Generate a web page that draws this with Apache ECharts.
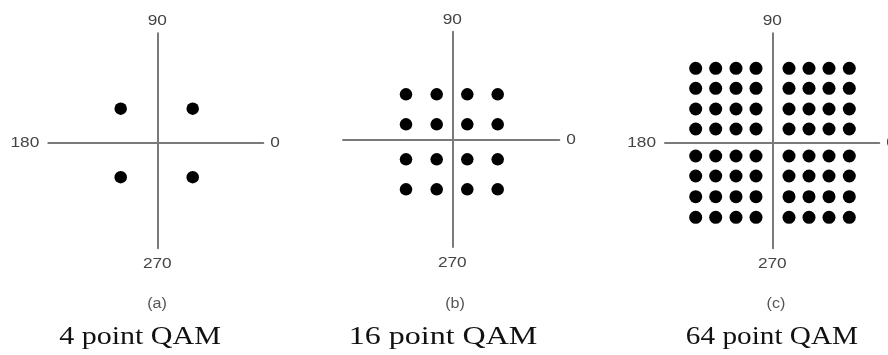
<!DOCTYPE html>
<html>
<head>
<meta charset="utf-8">
<script src="https://cdn.jsdelivr.net/npm/echarts@6.0.0/dist/echarts.min.js"></script>
<style>
  html, body { margin: 0; padding: 0; background: #ffffff; }
  #chart { width: 888px; height: 355px; }
</style>
</head>
<body>
<div id="chart"></div>
<script>
// In-phase (I) and quadrature (Q) levels of each constellation
const qam4I = [-3.66, 3.54];
const qam4Q = [3.4, -3.45];
const qam16I = [-4.63, -1.56, 1.5, 4.54];
const qam16Q = [4.57, 1.57, -1.93, -4.93];
const qam64I = [-7.66, -5.66, -3.63, -1.63, 1.67, 3.67, 5.67, 7.7];
const qam64Q = [7.44, 5.44, 3.37, 1.37, -1.33, -3.33, -5.4, -7.46];

// Phase angle written at each end of the axes
const labelTop = '90';
const labelBottom = '270';
const labelLeft = '180';
const labelRight = '0';

const captions = ['(a)', '(b)', '(c)'];
const titles = ['4 point QAM', '16 point QAM', '64 point QAM'];

// Layout of the three diagrams
const panels = [
  { I: qam4I, Q: qam4Q, grid: { left: 48.3, top: 33.3, width: 215, height: 215 },
    xr: [-10.9, 10.6], yr: [-10.56, 10.94], dot: 12.5, leftLabel: true,
    captionX: 157, titleX: 140, titleScale: 1.2 },
  { I: qam16I, Q: qam16Q, grid: { left: 343, top: 31.7, width: 216.3, height: 215.3 },
    xr: [-10.93, 10.7], yr: [-10.7, 10.83], dot: 12.5, leftLabel: false,
    captionX: 455, titleX: 443, titleScale: 1.28 },
  { I: qam64I, Q: qam64Q, grid: { left: 665, top: 33.3, width: 214.3, height: 215 },
    xr: [-10.73, 10.7], yr: [-10.56, 10.94], dot: 13, leftLabel: true,
    captionX: 776, titleX: 772, titleScale: 1.17 }
];

const axisColor = '#7a7a7a';

function constellation(I, Q) {
  const pts = [];
  Q.forEach(q => I.forEach(i => pts.push([i, q])));
  return pts;
}

const chart = echarts.init(document.getElementById('chart'), null, { renderer: 'canvas' });

const hiddenAxisParts = {
  axisTick: { show: false },
  axisLabel: { show: false },
  splitLine: { show: false }
};

chart.setOption({
  animation: false,
  backgroundColor: '#ffffff',
  grid: panels.map(p => Object.assign({ containLabel: false }, p.grid)),
  xAxis: panels.map((p, k) => Object.assign({
    gridIndex: k, type: 'value', min: p.xr[0], max: p.xr[1],
    axisLine: { show: true, onZero: true, lineStyle: { color: axisColor, width: 2 } }
  }, hiddenAxisParts)),
  yAxis: panels.map((p, k) => Object.assign({
    gridIndex: k, type: 'value', min: p.yr[0], max: p.yr[1],
    axisLine: { show: true, onZero: true, lineStyle: { color: axisColor, width: 2 } }
  }, hiddenAxisParts)),
  series: panels.map((p, k) => ({
    type: 'scatter',
    xAxisIndex: k,
    yAxisIndex: k,
    data: constellation(p.I, p.Q),
    symbol: 'circle',
    symbolSize: p.dot,
    itemStyle: { color: '#000000', opacity: 1 },
    silent: true
  }))
});

// Text placed from the axis geometry
const sansFont = '15px "Liberation Sans", Arial, sans-serif';
const captionFont = '14px "Liberation Sans", Arial, sans-serif';
const serifFont = '25px "Liberation Serif", "Times New Roman", serif';

function textEl(text, x, y, font, fill, align, scaleX) {
  return {
    type: 'text', x: x, y: y, scaleX: scaleX, scaleY: 1, silent: true,
    style: { text: text, x: 0, y: 0, font: font, fill: fill, align: align, verticalAlign: 'middle' }
  };
}

const graphics = [];
panels.forEach((p, k) => {
  const c = chart.convertToPixel({ gridIndex: k }, [0, 0]);
  const topEnd = chart.convertToPixel({ gridIndex: k }, [0, p.yr[1]]);
  const bottomEnd = chart.convertToPixel({ gridIndex: k }, [0, p.yr[0]]);
  const leftEnd = chart.convertToPixel({ gridIndex: k }, [p.xr[0], 0]);
  const rightEnd = chart.convertToPixel({ gridIndex: k }, [p.xr[1], 0]);

  graphics.push(textEl(labelTop, c[0], topEnd[1] - 12, sansFont, '#444444', 'center', 1.15));
  graphics.push(textEl(labelBottom, c[0], bottomEnd[1] + 15.5, sansFont, '#444444', 'center', 1.15));
  if (p.leftLabel) {
    graphics.push(textEl(labelLeft, leftEnd[0] - 9, c[1], sansFont, '#444444', 'right', 1.15));
  }
  graphics.push(textEl(labelRight, rightEnd[0] + 7, c[1], sansFont, '#444444', 'left', 1.15));

  graphics.push(textEl(captions[k], p.captionX, 304.5, captionFont, '#555555', 'center', 1.15));
  graphics.push(textEl(titles[k], p.titleX, 337, serifFont, '#111111', 'center', p.titleScale));
});

chart.setOption({ graphic: graphics });
</script>
</body>
</html>
